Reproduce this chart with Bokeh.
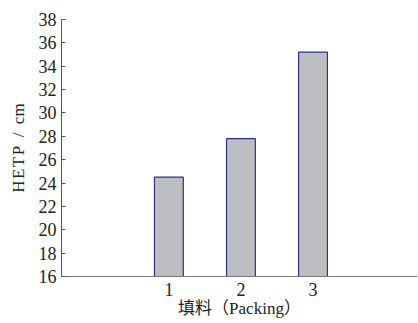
from bokeh.plotting import figure
from bokeh.models import FixedTicker, Range1d
from bokeh.embed import file_html
from bokeh.resources import INLINE

packing = [1, 2, 3]
hetp = [24.5, 27.8, 35.2]
y_ticks = [16, 18, 20, 22, 24, 26, 28, 30, 32, 34, 36, 38]

FONT = "Liberation Serif, Noto Sans CJK SC"

p = figure(width=417, height=322, output_backend="svg", toolbar_location=None,
           x_range=Range1d(-0.49, 4.45), y_range=Range1d(16, 38),
           min_border_left=61, min_border_top=19, min_border_right=0, min_border_bottom=46)
p.vbar(x=packing, top=hetp, bottom=16, width=0.4,
       fill_color="#bdbec2", line_color="#2e2e8f", line_width=1.2)

p.xgrid.visible = False
p.ygrid.visible = False
p.outline_line_color = None

ya = p.yaxis[0]
ya.ticker = FixedTicker(ticks=y_ticks)
ya.minor_tick_line_color = None
ya.major_tick_in = 4
ya.major_tick_out = 0
ya.axis_line_color = "#555555"
ya.major_tick_line_color = "#555555"
ya.major_label_text_font = FONT
ya.major_label_text_font_size = "18px"
ya.major_label_text_color = "#222222"
ya.major_label_standoff = 5
ya.axis_label = "H\u200aE\u200aT\u200aP\u2002/\u2002cm"
ya.axis_label_text_font = FONT
ya.axis_label_text_font_size = "17px"
ya.axis_label_text_font_style = "normal"
ya.axis_label_text_color = "#222222"
ya.axis_label_standoff = 8

xa = p.xaxis[0]
xa.ticker = FixedTicker(ticks=packing)
xa.minor_tick_line_color = None
xa.major_tick_in = 0
xa.major_tick_out = 0
xa.axis_line_color = "#777777"
xa.major_label_text_font = FONT
xa.major_label_text_font_size = "18px"
xa.major_label_text_color = "#222222"
xa.major_label_standoff = 6
xa.axis_label = "填料（Packing）"
xa.axis_label_text_font = FONT
xa.axis_label_text_font_size = "17px"
xa.axis_label_text_font_style = "normal"
xa.axis_label_text_color = "#222222"
xa.axis_label_standoff = 0

open("out.html", "w").write(file_html(p, INLINE))
